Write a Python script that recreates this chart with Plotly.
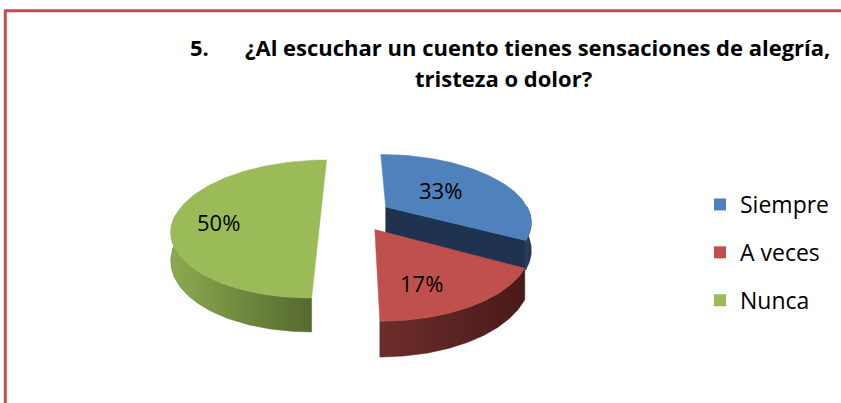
import numpy as np
import plotly.graph_objects as go

# ---------------- data ----------------
categories = ["Siempre", "A veces", "Nunca"]
values = [33, 17, 50]
value_labels = ["33%", "17%", "50%"]

title_number = "5."
title_line1 = "¿Al escuchar un cuento tienes sensaciones de alegría,"
title_line2 = "tristeza o dolor?"

# ---------------- styles ----------------
top_colors = ["#4F81BD", "#C0504D", "#9BBB59"]
side_colors = [["#2A4366", "#1D2F4C"], ["#6E2D2B", "#481A19"], ["#8CAA50", "#55692E"]]
wall_colors = ["#1F3351", "#5A2321", "#6F8A3E"]
FRAME = "#C0504D"
FONT = "'Open Sans', Lato, sans-serif"

# ---------------- layout geometry (pixel space) ----------------
W, H = 841, 403
CX, CY = 356, 215
RX, RY = 145, 66.2
K = 0.203          # perspective strength
DEPTH = 27         # thickness of the pie
EXPLODE = 0.244    # explosion distance (fraction of radius)
LABEL_XY = [(440, 190), (421, 283), (218, 222)]


def proj(u, v, z=0.0):
    w = 1.0 / (1.0 - K * v)
    return CX + RX * u * w, CY + RY * v * w + z * DEPTH * w


def rim(t_deg, su, sv, z=0.0, r=1.0):
    t = np.radians(t_deg)
    return proj(r * np.sin(t) + su, -r * np.cos(t) + sv, z)


total = float(sum(values))
bounds = np.concatenate([[0], np.cumsum(values)]) / total * 360.0

slices = []
for i, cat in enumerate(categories):
    t1, t2 = bounds[i], bounds[i + 1]
    tm = np.radians((t1 + t2) / 2)
    su, sv = EXPLODE * np.sin(tm), -EXPLODE * np.cos(tm)
    slices.append((i, t1, t2, su, sv, -np.cos(tm)))

fig = go.Figure()

# draw back-to-front
for i, t1, t2, su, sv, depthkey in sorted(slices, key=lambda s: s[5]):
    for t_wall, visible in ((t2, np.sin(np.radians(t2)) > 1e-6),
                            (t1, np.sin(np.radians(t1)) < -1e-6)):
        if visible:
            c0 = proj(su, sv, 0)
            c1 = proj(su, sv, 1)
            r0 = rim(t_wall, su, sv, 0)
            r1 = rim(t_wall, su, sv, 1)
            fig.add_trace(go.Scatter(
                x=[c0[0], r0[0], r1[0], c1[0], c0[0]],
                y=[c0[1], r0[1], r1[1], c1[1], c0[1]],
                mode="lines", fill="toself", fillcolor=wall_colors[i],
                line=dict(width=0.5, color=wall_colors[i]),
                hoverinfo="skip", showlegend=False))
    ta, tb = max(t1, 90.0), min(t2, 270.0)
    if tb > ta:
        ts = np.linspace(ta, tb, 80)
        xt, yt = rim(ts, su, sv, 0)
        xb, yb = rim(ts[::-1], su, sv, 1)
        fig.add_trace(go.Scatter(
            x=np.concatenate([xt, xb, xt[:1]]),
            y=np.concatenate([yt, yb, yt[:1]]),
            mode="lines", fill="toself",
            fillgradient=dict(type="horizontal",
                              colorscale=[[0, side_colors[i][0]], [1, side_colors[i][1]]]),
            line=dict(width=0.5, color=side_colors[i][1]),
            hoverinfo="skip", showlegend=False))
    ts = np.linspace(t1, t2, 120)
    xr, yr = rim(ts, su, sv, 0)
    c0 = proj(su, sv, 0)
    fig.add_trace(go.Scatter(
        x=np.concatenate([[c0[0]], xr, [c0[0]]]),
        y=np.concatenate([[c0[1]], yr, [c0[1]]]),
        mode="lines", fill="toself", fillcolor=top_colors[i],
        line=dict(width=0.5, color=top_colors[i]),
        hoverinfo="skip", showlegend=False))

# legend entries
for i, cat in enumerate(categories):
    fig.add_trace(go.Scatter(
        x=[None], y=[None], mode="markers", name=cat,
        legendgroup=cat,
        marker=dict(symbol="square", size=12, color=top_colors[i]),
        showlegend=True))

# value labels
for (lx, ly), txt in zip(LABEL_XY, value_labels):
    fig.add_annotation(x=lx, y=ly, text=txt, showarrow=False,
                       font=dict(family=FONT, size=22, color="#000000"),
                       xanchor="center", yanchor="middle")

# title
tfont = dict(family=FONT, size=22, color="#000000")
fig.add_annotation(x=188, y=47, text=f"<b>{title_number}</b>", showarrow=False,
                   xanchor="left", yanchor="middle", font=tfont)
fig.add_annotation(x=243, y=47, text=f"<b>{title_line1}</b>", showarrow=False,
                   xanchor="left", yanchor="middle", font=tfont)
fig.add_annotation(x=503, y=78, text=f"<b>{title_line2}</b>", showarrow=False,
                   xanchor="center", yanchor="middle", font=tfont)

# document frame (top and left rule)
fig.add_shape(type="line", xref="paper", yref="paper", x0=5 / W, x1=1.0,
              y0=1 - 10.7 / H, y1=1 - 10.7 / H, line=dict(color=FRAME, width=3))
fig.add_shape(type="line", xref="paper", yref="paper", x0=5.3 / W, x1=5.3 / W,
              y0=0, y1=1 - 9.5 / H, line=dict(color=FRAME, width=3))

fig.update_layout(
    width=W, height=H,
    margin=dict(l=0, r=0, t=0, b=0),
    paper_bgcolor="white", plot_bgcolor="white",
    xaxis=dict(range=[0, W], visible=False, fixedrange=True),
    yaxis=dict(range=[H, 0], visible=False, fixedrange=True),
    showlegend=True,
    legend=dict(x=700 / W, y=1 - 183 / H, xanchor="left", yanchor="top",
                font=dict(family=FONT, size=23, color="#000000"),
                tracegroupgap=15, bgcolor="rgba(0,0,0,0)", traceorder="grouped",
                itemsizing="constant"),
)

fig.write_html("out.html", config={"displayModeBar": False},
               post_script="document.body.style.margin='0';")
